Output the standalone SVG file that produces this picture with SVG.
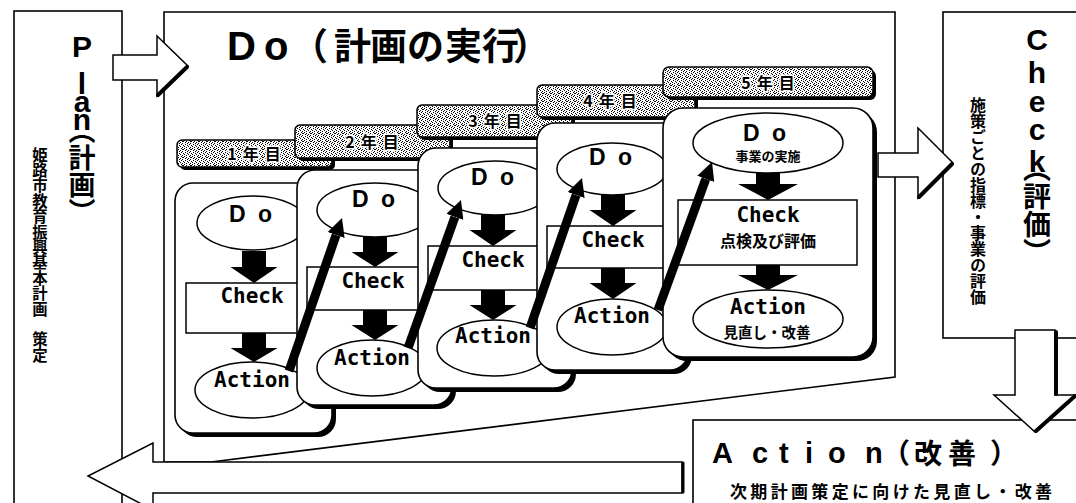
<svg xmlns="http://www.w3.org/2000/svg" width="1076" height="503" viewBox="0 0 1076 503">
<defs>
<pattern id="dither" width="8" height="8" patternUnits="userSpaceOnUse">
<rect width="8" height="8" fill="#fff"/>
<path d="M1,0h1v1h-1z M5,0h1v1h-1z M3,1h1v1h-1z M7,1h1v1h-1z M0,2h1v1h-1z M4,2h1v1h-1z M6,3h1v1h-1z M2,3h1v1h-1z M5,4h1v1h-1z M0,4h1v1h-1z M2,5h1v1h-1z M7,5h1v1h-1z M4,6h1v1h-1z M1,6h1v1h-1z M6,7h1v1h-1z M3,7h1v1h-1z M6,5h1v1h-1z" fill="#000"/>
</pattern>
<marker id="ah" viewBox="0 0 18 18" refX="0" refY="9" markerWidth="18" markerHeight="18" markerUnits="userSpaceOnUse" orient="auto"><path d="M0,0L18,9L0,18Z" fill="#000"/></marker>
<style>
.frame{fill:#fff;stroke:#000;stroke-width:1.6}
.shadow{fill:#000}
.tab{fill:url(#dither);stroke:#000;stroke-width:1.5}
.yb{fill:#fff;stroke:#000;stroke-width:1.6}
.el{fill:#fff;stroke:#000;stroke-width:1.5}
.rc{fill:#fff;stroke:#000;stroke-width:1.5}
.big{font-family:"Liberation Sans",Arial,sans-serif;font-weight:bold;fill:#000}
.jp{font-family:"Noto Sans CJK JP",sans-serif;font-weight:bold;fill:#000}
.vt{writing-mode:vertical-rl}
.mono{font-family:"DejaVu Sans Mono",monospace;font-weight:bold;font-size:21px;text-anchor:middle}
.dob{font-family:"Liberation Sans",Arial,sans-serif;font-weight:bold;font-size:23px}
.tl{font-family:"Noto Sans CJK JP",sans-serif;font-weight:bold;font-size:16px;letter-spacing:6px;text-anchor:middle;stroke:#fff;stroke-width:3px;paint-order:stroke}
.sub{font-family:"Noto Sans CJK JP",sans-serif;font-weight:bold;text-anchor:middle}
.blk{fill:#000}
.barrow{fill:#fff;stroke:#000;stroke-width:1.5}
.sh{stroke:#000;stroke-width:4;stroke-linecap:round;fill:none}
.diag{stroke:#000;stroke-width:9;marker-end:url(#ah)}
</style>
</defs>
<rect width="1076" height="503" fill="#fff"/>

<g id="plan">
<rect class="frame" x="14" y="11" width="108" height="500"/>
<text class="big" font-size="30" text-anchor="middle" x="82 82 82 82" y="57 94 112 130">Plan</text>
<text class="jp vt" x="82" y="117" font-size="27">（計画）</text>
<text class="jp vt" x="40" y="147" font-size="15.4">姫路市教育振興基本計画　策定</text>
</g>

<g id="do">
<polygon class="frame" points="164,12 895,12 895,377 211,462 164,462"/>
<text class="big" font-size="40" x="227 264" y="60">Do</text>
<text class="jp" font-size="37" x="291 334 370 407 445 482 513" y="60">（計画の実行）</text>
</g>

<g id="year1">
<rect class="shadow" x="180" y="143" width="155" height="27" rx="5"/>
<rect class="tab" x="177" y="140" width="155" height="27" rx="5"/>
<text class="tl" x="257" y="160">1年目</text>
<rect class="shadow" x="179" y="187" width="157" height="250" rx="18"/>
<rect class="yb" x="175" y="183" width="157" height="250" rx="18"/>
<ellipse class="el" cx="252" cy="223" rx="55" ry="27"/>
<text class="dob" x="229 258" y="222">Do</text>
<rect class="rc" x="186" y="283" width="134" height="50"/>
<text class="mono" x="252" y="303">Check</text>
<ellipse class="el" cx="252" cy="390" rx="57" ry="28"/>
<text class="mono" x="252" y="387">Action</text>
</g>

<g id="year2">
<rect class="shadow" x="298" y="128" width="155" height="33" rx="5"/>
<rect class="tab" x="295" y="125" width="155" height="33" rx="5"/>
<text class="tl" x="375" y="148">2年目</text>
<rect class="shadow" x="301" y="174" width="155" height="235" rx="18"/>
<rect class="yb" x="297" y="170" width="155" height="235" rx="18"/>
<ellipse class="el" cx="375" cy="210" rx="58" ry="27"/>
<text class="dob" x="352 381" y="207">Do</text>
<rect class="rc" x="307" y="267" width="135" height="43"/>
<text class="mono" x="373" y="288">Check</text>
<ellipse class="el" cx="372" cy="368" rx="55" ry="28"/>
<text class="mono" x="372" y="365">Action</text>
</g>

<g id="year3">
<rect class="shadow" x="420" y="108" width="155" height="32" rx="5"/>
<rect class="tab" x="417" y="105" width="155" height="32" rx="5"/>
<text class="tl" x="498" y="127">3年目</text>
<rect class="shadow" x="422" y="152" width="154" height="240" rx="18"/>
<rect class="yb" x="418" y="148" width="154" height="240" rx="18"/>
<ellipse class="el" cx="495" cy="188" rx="57" ry="27"/>
<text class="dob" x="471 500" y="185">Do</text>
<rect class="rc" x="428" y="246" width="132" height="44"/>
<text class="mono" x="493" y="267">Check</text>
<ellipse class="el" cx="494" cy="348" rx="57" ry="28"/>
<text class="mono" x="493" y="343">Action</text>
</g>

<g id="year4">
<rect class="shadow" x="540" y="88" width="158" height="32" rx="5"/>
<rect class="tab" x="537" y="85" width="158" height="32" rx="5"/>
<text class="tl" x="613" y="107">4年目</text>
<rect class="shadow" x="541" y="127" width="151" height="247" rx="18"/>
<rect class="yb" x="537" y="123" width="151" height="247" rx="18"/>
<ellipse class="el" cx="612" cy="169" rx="55" ry="26"/>
<text class="dob" x="589 618" y="165">Do</text>
<rect class="rc" x="547" y="226" width="133" height="42"/>
<text class="mono" x="613" y="247">Check</text>
<ellipse class="el" cx="612" cy="327" rx="55" ry="28"/>
<text class="mono" x="612" y="323">Action</text>
</g>

<g id="year5">
<rect class="shadow" x="666" y="70" width="210" height="30" rx="6"/>
<rect class="tab" x="663" y="67" width="210" height="30" rx="6"/>
<text class="tl" x="771" y="89">5年目</text>
<rect class="shadow" x="667" y="112" width="210" height="249" rx="20"/>
<rect class="yb" x="663" y="108" width="210" height="249" rx="20"/>
<ellipse class="el" cx="768" cy="143" rx="75" ry="30"/>
<text class="dob" x="743 772" y="141" font-size="21">Do</text>
<text class="sub" x="768" y="161" font-size="13">事業の実施</text>
<rect class="rc" x="678" y="200" width="179" height="65"/>
<text class="mono" x="768" y="222">Check</text>
<text class="sub" x="768" y="247" font-size="16">点検及び評価</text>
<ellipse class="el" cx="768" cy="319" rx="75" ry="29"/>
<text class="mono" x="768" y="314">Action</text>
<text class="sub" x="767" y="338" font-size="14.5">見直し・改善</text>
</g>

<g id="check">
<rect class="frame" x="943" y="12" width="140" height="326"/>
<text class="big" font-size="30" text-anchor="middle" x="1037 1037 1037 1037 1037" y="50 83 112 140 172">Check</text>
<text class="jp vt" x="1037" y="154" font-size="28">（評価）</text>
<text class="jp vt" x="978" y="97" font-size="16">施策ごとの指標・事業の評価</text>
</g>

<g id="action">
<rect class="frame" x="693" y="420" width="390" height="90"/>
<text class="big" font-size="29" x="712 752 779 805 828 865" y="463">Action</text>
<text class="jp" font-size="28" x="882 914 948 990" y="464">（改善）</text>
<text class="jp" font-size="17" x="730" y="498" textLength="322" lengthAdjust="spacing">次期計画策定に向けた見直し・改善</text>
</g>

<g id="connectors">
<path class="blk" d="M242,251H266V267H277.5L254,283L230.5,267H242Z"/>
<path class="blk" d="M242,333H266V348H277.5L254,362L230.5,348H242Z"/>
<path class="blk" d="M363,237H387V252H398.5L375,267L351.5,252H363Z"/>
<path class="blk" d="M363,310H387V325H398.5L375,340L351.5,325H363Z"/>
<path class="blk" d="M481,215H505V230H516.5L493,246L469.5,230H481Z"/>
<path class="blk" d="M481,290H505V305H516.5L493,320L469.5,305H481Z"/>
<path class="blk" d="M601,195H625V210H636.5L613,226L589.5,210H601Z"/>
<path class="blk" d="M601,268H625V283H636.5L613,299L589.5,283H601Z"/>
<path class="blk" d="M756,173H780V184H798L768,200L738,184H756Z"/>
<path class="blk" d="M756,265H780V275H798L768,290L738,275H756Z"/>
<line class="diag" x1="289" y1="371" x2="336.1" y2="235"/>
<line class="diag" x1="408" y1="348" x2="454.9" y2="216.9"/>
<line class="diag" x1="530" y1="328" x2="576.1" y2="195"/>
<line class="diag" x1="658" y1="310" x2="705.8" y2="178.9"/>
<polygon class="barrow" points="113,55 157,55 157,36 188,66 157,96 157,80 113,80"/>
<line class="sh" x1="187" y1="67" x2="158" y2="95"/>
<polygon class="barrow" points="878,153 918,153 918,128 953,163 918,198 918,177 878,177"/>
<line class="sh" x1="952" y1="164" x2="919" y2="197"/>
<polygon class="barrow" points="1015,330 1055,330 1055,395 1076,395 1035,432 994,395 1015,395"/>
<line class="sh" x1="1056" y1="332" x2="1056" y2="394"/>
<line class="sh" x1="1075" y1="396" x2="1036" y2="431"/>
<polygon class="barrow" points="682,462 153,462 153,443 88,476 153,510 153,493 682,493"/>
<line class="sh" x1="683" y1="463" x2="683" y2="492" style="stroke-width:3"/>
</g>
</svg>
